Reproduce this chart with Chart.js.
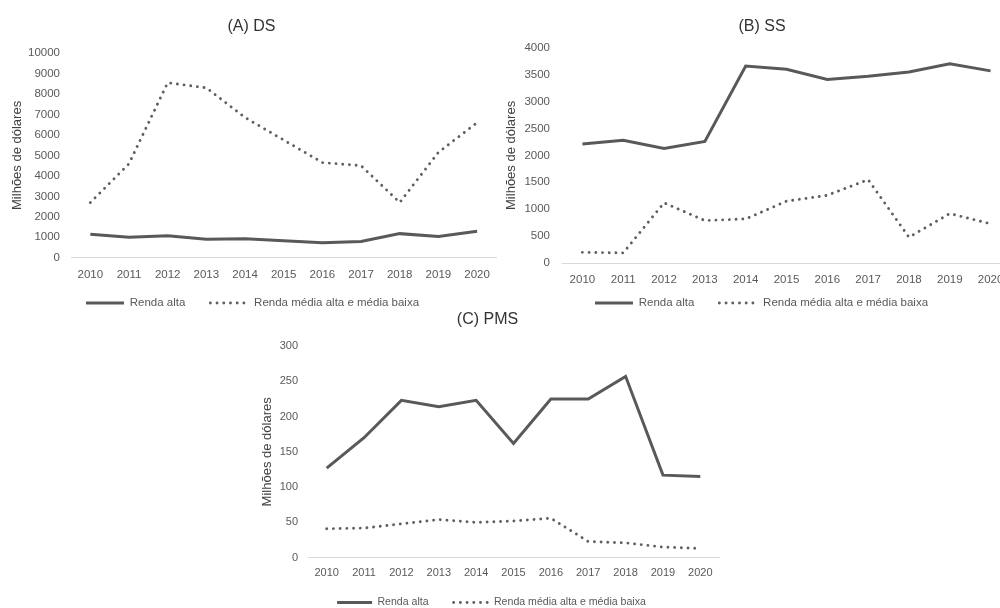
<!DOCTYPE html>
<html>
<head>
<meta charset="utf-8">
<script src="https://cdn.jsdelivr.net/npm/chart.js@4"></script>
<style>
  html, body { margin: 0; padding: 0; background: #fff; overflow: hidden; }
  #wrap { position: relative; width: 1000px; height: 608px; overflow: hidden; }
  .box { position: absolute; }
</style>
</head>
<body>
<div id="wrap">
  <div class="box" style="left:0;top:0"><canvas id="chartA" width="500" height="330"></canvas></div>
  <div class="box" style="left:500px;top:0"><canvas id="chartB" width="524" height="334"></canvas></div>
  <div class="box" style="left:256px;top:300px"><canvas id="chartC" width="466" height="328"></canvas></div>
</div>
<script>
const years = ["2010", "2011", "2012", "2013", "2014", "2015", "2016", "2017", "2018", "2019", "2020"];
const seriesNames = ["Renda alta", "Renda média alta e média baixa"];

// (A) DS
const dsAlta = [1150, 1000, 1080, 900, 930, 830, 730, 800, 1180, 1040, 1300];
const dsMedia = [2700, 4600, 8550, 8300, 6850, 5750, 4650, 4500, 2700, 5150, 6600];
// (B) SS
const ssAlta = [2210, 2280, 2130, 2260, 3660, 3600, 3410, 3470, 3550, 3700, 3570];
const ssMedia = [200, 190, 1120, 790, 820, 1150, 1260, 1550, 480, 920, 730];
// (C) PMS
const pmsAlta = [127, 170, 223, 214, 223, 162, 225, 225, 257, 117, 115];
const pmsMedia = [41, 42, 48, 54, 50, 52, 56, 23, 21, 15, 13];

const FONT = "'Liberation Sans', Arial, sans-serif";
const LINE = "#595959";
const DOTS = [0.01, 6.7];

// nudge title / legend boxes after layout (legend sits closer to the year labels)
const boxNudge = {
  id: "boxNudge",
  afterLayout(chart, args, opts) {
    const lg = chart.legend;
    if (lg) {
      lg.top -= opts.legendUp || 0;
      lg.bottom -= opts.legendUp || 0;
      lg.left += opts.legendDx || 0;
      lg.right += opts.legendDx || 0;
    }
    const t = chart.titleBlock;
    if (t) {
      t.left += opts.titleDx || 0;
      t.right += opts.titleDx || 0;
    }
  }
};

const makeChart = (id, title, alta, media, yMax, yStep, g) => {
  const ctx = document.getElementById(id);
  if (!ctx) return;
  new Chart(ctx, {
    type: "line",
    data: {
      labels: years,
      datasets: [
        {
          label: seriesNames[0],
          data: alta,
          borderColor: LINE,
          backgroundColor: LINE,
          borderWidth: 3,
          pointRadius: 0,
          pointStyle: "line",
          tension: 0
        },
        {
          label: seriesNames[1],
          data: media,
          borderColor: "#5f5f5f",
          backgroundColor: "#5f5f5f",
          borderWidth: 2.9,
          borderDash: DOTS,
          borderCapStyle: "round",
          pointRadius: 0,
          pointStyle: "line",
          tension: 0
        }
      ]
    },
    plugins: [boxNudge],
    options: {
      responsive: false,
      animation: false,
      devicePixelRatio: 1,
      layout: { padding: { left: 0, right: g.padRight, top: 0, bottom: g.padBottom } },
      plugins: {
        boxNudge: { legendUp: g.shift, legendDx: g.legendDx, titleDx: g.titleDx },
        title: {
          display: true,
          text: title,
          color: "#333",
          font: { family: FONT, size: 16, weight: "normal" },
          padding: { top: g.titleTop, bottom: g.titleBottom }
        },
        legend: {
          position: "bottom",
          labels: {
            usePointStyle: true,
            pointStyleWidth: g.legendLine,
            padding: 25,
            color: LINE,
            font: { family: FONT, size: g.legendFont },
            generateLabels: chart => Chart.defaults.plugins.legend.labels.generateLabels(chart).map((item, i) => {
              const ds = chart.data.datasets[i];
              item.lineDash = ds.borderDash || [];
              item.lineCap = ds.borderCapStyle || "butt";
              item.lineWidth = ds.borderWidth;
              item.strokeStyle = ds.borderColor;
              return item;
            })
          }
        },
        tooltip: { enabled: false }
      },
      scales: {
        x: {
          offset: true,
          grid: { display: false, drawTicks: false },
          border: { display: true, color: "#d9d9d9", width: 1 },
          ticks: { color: LINE, padding: g.xPad, font: { family: FONT, size: g.tickFont }, maxRotation: 0 },
          afterFit: s => { s.height = g.xPad + 14; }
        },
        y: {
          min: 0,
          max: yMax,
          grid: { display: false, drawTicks: false },
          border: { display: false },
          ticks: {
            stepSize: yStep,
            color: LINE,
            padding: g.yPad,
            font: { family: FONT, size: g.tickFont },
            callback: v => String(v)
          },
          title: {
            display: true,
            text: "Milhões de dólares",
            color: "#404040",
            font: { family: FONT, size: 13 },
            padding: { top: g.yTitlePad, bottom: 0 }
          },
          afterFit: s => { s.width = g.yWidth; }
        }
      }
    }
  });
};

makeChart("chartA", "(A) DS", dsAlta, dsMedia, 10000, 1000, {
  padRight: 3, padBottom: 1.7, titleTop: 17, titleBottom: 16.8,
  xPad: 10, yPad: 11, yTitlePad: 10, yWidth: 71, shift: 9.5,
  tickFont: 11.5, legendFont: 11.5, legendLine: 38, legendDx: 4, titleDx: 3
});
makeChart("chartB", "(B) SS", ssAlta, ssMedia, 4000, 500, {
  padRight: 13, padBottom: 1, titleTop: 17, titleBottom: 11.5,
  xPad: 9.4, yPad: 12, yTitlePad: 4, yWidth: 62, shift: 14.2,
  tickFont: 11.5, legendFont: 11.5, legendLine: 38, legendDx: 6, titleDx: 6.5
});
makeChart("chartC", "(C) PMS", pmsAlta, pmsMedia, 300, 50, {
  padRight: 3, padBottom: 1.7, titleTop: 10, titleBottom: 16.8,
  xPad: 9, yPad: 10, yTitlePad: 4, yWidth: 52, shift: 8.5,
  tickFont: 11, legendFont: 10.6, legendLine: 35, legendDx: 4, titleDx: 0
});
</script>
</body>
</html>
